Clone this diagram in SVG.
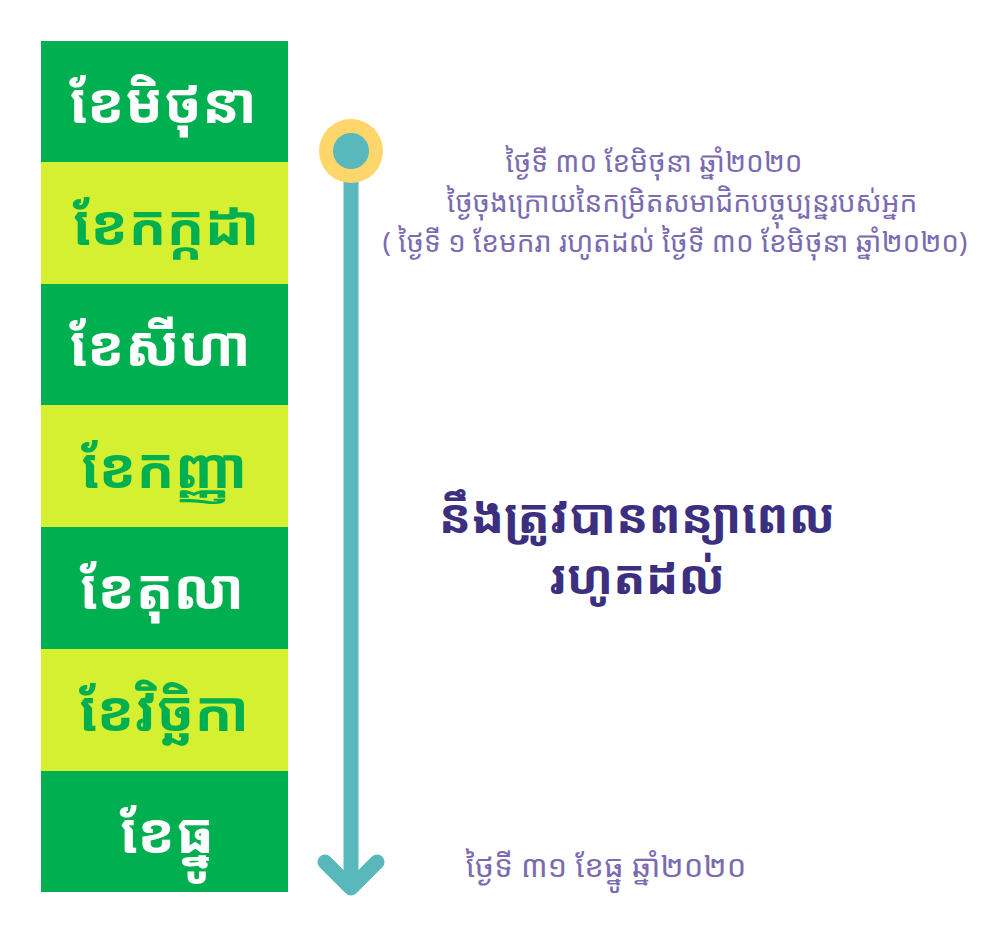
<svg xmlns="http://www.w3.org/2000/svg" width="992" height="946" viewBox="0 0 992 946">
<style>
.k{font-family:"Noto Sans Khmer","Noto Serif Khmer","Khmer OS","Khmer OS System","DejaVu Sans",sans-serif}
.m{font-size:56px;font-weight:bold;text-anchor:middle}
.dk{fill:#00AF4F}
.lt{fill:#D4F031}
.tw{fill:#FFFFFF}
.tg{fill:#00AF4F}
.info{font-size:28px;fill:#7B6BB0;text-anchor:middle}
.end{font-size:31px}
.big{font-size:48px;font-weight:bold;fill:#3B2F7F;text-anchor:middle}
</style>
<rect width="992" height="946" fill="#FFFFFF"/>
<g id="month-jun"><rect class="dk" x="41" y="41" width="247" height="122"/><text class="k m tw" x="163" y="123">ខែមិថុនា</text></g>
<g id="month-jul"><rect class="lt" x="41" y="162" width="247" height="122"/><text class="k m tg" x="166" y="245">ខែកក្កដា</text></g>
<g id="month-aug"><rect class="dk" x="41" y="284" width="247" height="122"/><text class="k m tw" x="160" y="366">ខែសីហា</text></g>
<g id="month-sep"><rect class="lt" x="41" y="405" width="247" height="122"/><text class="k m tg" x="164" y="488">ខែកញ្ញា</text></g>
<g id="month-oct"><rect class="dk" x="41" y="527" width="247" height="122"/><text class="k m tw" x="162" y="609">ខែតុលា</text></g>
<g id="month-nov"><rect class="lt" x="41" y="649" width="247" height="122"/><text class="k m tg" x="164" y="731">ខែវិច្ឆិកា</text></g>
<g id="month-dec"><rect class="dk" x="41" y="771" width="247" height="121"/><text class="k m tw" x="167" y="853">ខែធ្នូ</text></g>
<g id="connectors">
<line x1="351" y1="151" x2="351" y2="884" stroke="#58B8BC" stroke-width="15"/>
<polyline points="325,862 351,888 377,862" fill="none" stroke="#58B8BC" stroke-width="15" stroke-linecap="round" stroke-linejoin="round"/>
</g>
<g id="start-marker">
<circle cx="351" cy="151" r="32" fill="#FFD66B"/>
<circle cx="351" cy="151" r="18" fill="#58B8BC"/>
</g>
<g id="start-label">
<text class="k info" x="654" y="172">ថ្ងៃទី ៣០ ខែមិថុនា ឆ្នាំ២០២០</text>
<text class="k info" x="682" y="212">ថ្ងៃចុងក្រោយនៃកម្រិតសមាជិកបច្ចុប្បន្នរបស់អ្នក</text>
<text class="k info" x="675" y="252">( ថ្ងៃទី ១ ខែមករា រហូតដល់ ថ្ងៃទី ៣០ ខែមិថុនា ឆ្នាំ២០២០)</text>
</g>
<g id="middle-label">
<text class="k big" x="637" y="533">នឹងត្រូវបានពន្យាពេល</text>
<text class="k big" x="637" y="594">រហូតដល់</text>
</g>
<g id="end-label">
<text class="k info end" x="606" y="877">ថ្ងៃទី ៣១ ខែធ្នូ ឆ្នាំ២០២០</text>
</g>
</svg>
